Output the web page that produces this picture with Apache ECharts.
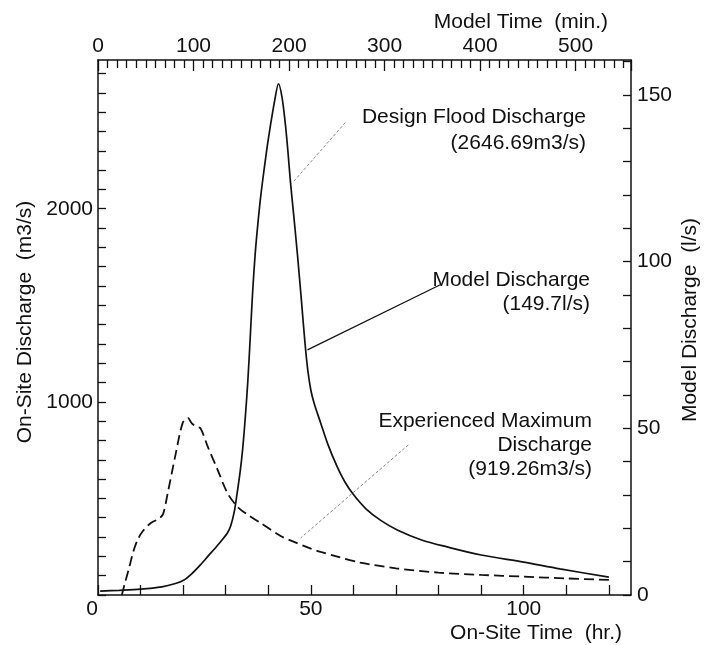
<!DOCTYPE html>
<html>
<head>
<meta charset="utf-8">
<script src="https://cdn.jsdelivr.net/npm/echarts@6/dist/echarts.min.js"></script>
<style>
  html, body { margin: 0; padding: 0; background: #fff; }
  #chart { width: 704px; height: 645px; }
</style>
</head>
<body>
<div id="chart"></div>
<script>
// on-site time (hr) and discharge (m3/s) of the design flood / model run
let designHours = [0.5, 5, 10, 15, 18, 20.2, 22, 24, 26, 28, 30.4, 31.2, 32, 32.7, 33.4, 34, 34.6, 35.2, 35.8, 36.3, 36.9,
  37.5, 38.2, 39, 39.8, 40.5, 41.5, 42.4, 43.2, 44, 44.6, 45.2, 46, 46.9, 47.8, 48.6, 49.3, 50, 50.8, 52.3, 54, 56.2, 58,
  60, 63, 66.5, 70.3, 76, 82, 90, 100, 108.5, 120];
let designFlow = [20, 24, 30, 42, 58, 78, 110, 155, 205, 255, 321, 360, 430, 530, 640, 760, 920, 1110, 1350, 1560, 1760,
  1910, 2060, 2200, 2330, 2430, 2560, 2647, 2580, 2440, 2300, 2140, 1960, 1750, 1520, 1310, 1160, 1060, 990, 891, 780, 663, 585,
  520, 445, 385, 337, 285, 249, 207, 170, 135, 93];

// experienced maximum flood
let expHours = [5.6, 6.3, 7.3, 8.3, 9.3, 10.5, 12.4, 14.3, 15.3, 16.4, 18.3, 19.9, 21.1, 22, 23, 24.1, 25.8, 28.1, 30.4,
  32.8, 35.2, 38.2, 42.9, 45.2, 50, 52.3, 56, 61.6, 70, 80, 90, 100, 110, 120];
let expFlow = [0, 60, 140, 225, 285, 330, 373, 395, 420, 530, 736, 891, 917, 890, 872, 862, 767, 648, 528,
  456, 415, 373, 305, 283, 240, 223, 200, 168, 138, 116, 104, 95, 86, 78];

// axis ranges
let hourMax = 125.2;
let minuteMax = 558;
let siteFlowMax = 2770;
let modelFlowMax = 160.5;
let siteFlowLabels = [1000, 2000];
let hourLabels = [0, 50, 100];
let modelFlowLabels = [0, 50, 100, 150];

// leader lines: [hour, m3/s] from text to curve
let leaderDesign = [[58.1, 2446], [45.7, 2135]];
let leaderModel = [[80.4, 1606], [49.2, 1269]];
let leaderExp = [[72.9, 777], [47.6, 295]];

let FAMILY = '"Liberation Sans", Arial, sans-serif';
let FONT = '21px ' + FAMILY;
let INK = '#111';

function pairs(xs, ys) {
  let out = [];
  for (let i = 0; i < xs.length; i++) out.push([xs[i], ys[i]]);
  return out;
}

let axisBase = {
  axisLine: { show: true, onZero: false, lineStyle: { color: INK, width: 1.5 } },
  axisTick: { show: true, inside: true, length: 8, lineStyle: { color: INK, width: 1.3 } },
  axisLabel: { color: INK, fontSize: 21, fontFamily: FAMILY },
  splitLine: { show: false }
};

function textEl(str, x, y, align, rot) {
  return {
    type: 'text', x: x, y: y, rotation: rot || 0,
    style: { text: str, font: FONT, fill: INK, textAlign: align, textVerticalAlign: 'middle' }
  };
}

let chart = echarts.init(document.getElementById('chart'));

let option = {
  animation: false,
  backgroundColor: '#fff',
  grid: { left: 98, right: 73, top: 60, bottom: 50 },
  xAxis: [
    Object.assign({}, axisBase, {
      type: 'value', position: 'bottom', min: 0, max: hourMax, interval: 10,
      axisTick: { show: true, inside: true, length: 10, lineStyle: { color: INK, width: 1.3 } },
      axisLabel: Object.assign({}, axisBase.axisLabel, {
        margin: 4, showMaxLabel: false, alignMinLabel: 'right',
        formatter: function (v) { return hourLabels.indexOf(v) >= 0 ? String(v) : ''; }
      })
    }),
    Object.assign({}, axisBase, {
      type: 'value', position: 'top', min: 0, max: minuteMax, interval: 100,
      axisTick: { show: true, inside: true, length: 11, lineStyle: { color: INK, width: 1.3 } },
      minorTick: { show: true, splitNumber: 10, length: 8, lineStyle: { color: INK, width: 1.3 } },
      axisLabel: Object.assign({}, axisBase.axisLabel, { margin: 3, showMaxLabel: false })
    })
  ],
  yAxis: [
    Object.assign({}, axisBase, {
      type: 'value', position: 'left', min: 0, max: siteFlowMax, interval: 100,
      axisLabel: Object.assign({}, axisBase.axisLabel, {
        margin: 5, showMaxLabel: false,
        formatter: function (v) { return siteFlowLabels.indexOf(v) >= 0 ? String(v) : ''; }
      })
    }),
    Object.assign({}, axisBase, {
      type: 'value', position: 'right', min: 0, max: modelFlowMax, interval: 10,
      axisLabel: Object.assign({}, axisBase.axisLabel, {
        margin: 6, showMaxLabel: false,
        formatter: function (v) { return modelFlowLabels.indexOf(v) >= 0 ? String(v) : ''; }
      })
    })
  ],
  series: [
    {
      name: 'Design Flood Discharge',
      type: 'line',
      xAxisIndex: 0, yAxisIndex: 0,
      data: pairs(designHours, designFlow),
      showSymbol: false,
      smooth: 0.3,
      lineStyle: { color: INK, width: 1.7 },
      markLine: {
        silent: true, symbol: ['none', 'none'], label: { show: false },
        data: [
          [{ coord: leaderDesign[0], lineStyle: { color: '#888', width: 1, type: [3, 2] } }, { coord: leaderDesign[1] }],
          [{ coord: leaderModel[0], lineStyle: { color: INK, width: 1.2, type: 'solid' } }, { coord: leaderModel[1] }],
          [{ coord: leaderExp[0], lineStyle: { color: '#888', width: 1, type: [3, 2] } }, { coord: leaderExp[1] }]
        ]
      }
    },
    {
      name: 'Experienced Maximum Discharge',
      type: 'line',
      xAxisIndex: 0, yAxisIndex: 0,
      data: pairs(expHours, expFlow),
      showSymbol: false,
      smooth: 0.3,
      lineStyle: { color: INK, width: 1.8, type: [10, 5] }
    }
  ],
  graphic: [
    textEl('Model Time  (min.)', 608, 22, 'right'),
    textEl('On-Site Time  (hr.)', 622, 633, 'right'),
    textEl('On-Site Discharge  (m3/s)', 25, 322, 'center', Math.PI / 2),
    textEl('Model Discharge  (l/s)', 690, 320, 'center', Math.PI / 2),
    textEl('Design Flood Discharge', 586, 117, 'right'),
    textEl('(2646.69m3/s)', 586, 143, 'right'),
    textEl('Model Discharge', 590, 280, 'right'),
    textEl('(149.7l/s)', 590, 304, 'right'),
    textEl('Experienced Maximum', 592, 421, 'right'),
    textEl('Discharge', 592, 445, 'right'),
    textEl('(919.26m3/s)', 592, 469, 'right')
  ]
};

chart.setOption(option);
</script>
</body>
</html>
